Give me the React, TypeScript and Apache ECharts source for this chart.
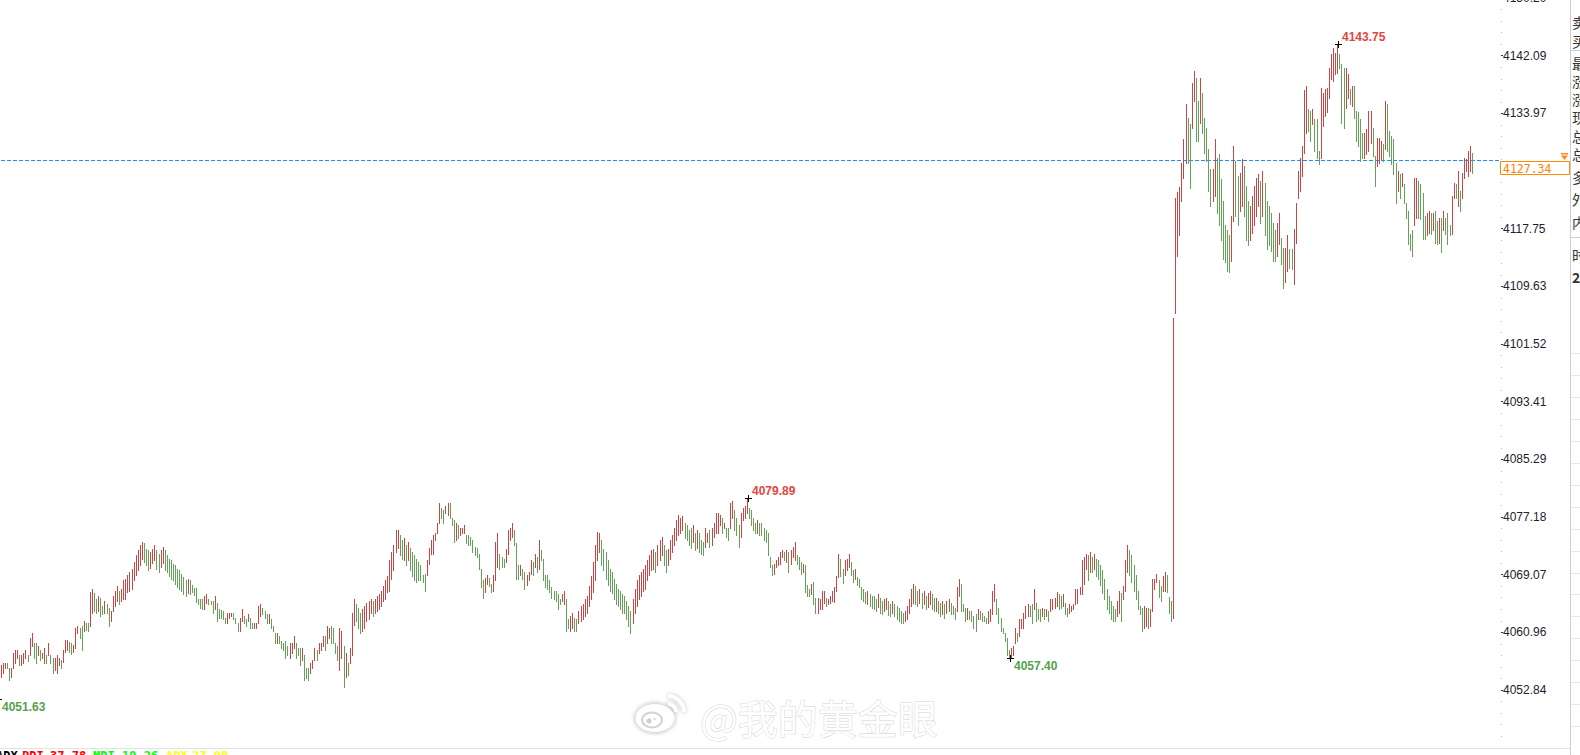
import React, { useEffect, useRef } from 'react';
import * as echarts from 'echarts';

// [high, low] of each bar, left to right
const bars: [number, number][] = [
[4056.3,4054.6],[4056.7,4055.2],[4056.7,4056.0],[4056.6,4055.9],[4055.9,4054.2],[4055.9,4054.6],[4058.1,4055.9],[4058.5,4056.7],[4058.4,4057.4],[4057.7,4056.3],
[4057.7,4056.3],[4058.1,4056.6],[4058.4,4057.3],[4057.7,4056.9],[4060.2,4057.7],[4060.8,4059.1],[4059.5,4057.4],[4059.4,4056.7],[4059.1,4057.7],[4058.4,4057.0],
[4058.1,4057.3],[4058.8,4056.6],[4057.7,4056.6],[4059.5,4057.7],[4057.7,4056.6],[4057.3,4055.3],[4057.3,4055.6],[4057.7,4055.3],[4057.3,4056.3],[4057.0,4056.0],
[4058.5,4056.8],[4059.9,4058.2],[4059.9,4058.5],[4059.6,4058.2],[4059.4,4057.9],[4059.2,4058.2],[4061.5,4058.8],[4061.9,4060.8],[4061.5,4060.2],[4061.9,4058.4],
[4062.6,4061.2],[4062.2,4061.3],[4062.2,4061.1],[4066.7,4061.9],[4067.0,4063.7],[4066.5,4064.0],[4065.7,4063.7],[4066.1,4064.0],[4065.8,4063.3],[4064.7,4063.6],
[4065.4,4063.7],[4065.0,4063.7],[4064.4,4061.9],[4064.0,4062.6],[4066.1,4064.0],[4066.8,4064.7],[4067.5,4065.4],[4066.8,4065.0],[4067.1,4065.4],[4068.3,4065.7],
[4068.5,4065.7],[4069.0,4066.6],[4069.4,4066.8],[4069.9,4067.1],[4070.8,4068.3],[4071.8,4069.0],[4072.5,4069.7],[4073.2,4070.4],[4073.7,4071.3],[4073.5,4070.8],
[4072.7,4070.4],[4072.5,4069.7],[4072.2,4070.0],[4072.7,4070.7],[4073.2,4071.1],[4072.5,4069.9],[4072.0,4069.4],[4072.5,4070.2],[4072.9,4070.7],[4072.5,4069.7],
[4071.8,4069.4],[4071.3,4068.9],[4071.1,4068.5],[4070.6,4068.3],[4070.4,4067.8],[4069.9,4067.4],[4069.7,4067.1],[4069.2,4066.8],[4068.8,4066.4],[4068.3,4066.0],
[4068.5,4066.5],[4068.3,4066.4],[4067.6,4066.6],[4067.2,4066.2],[4067.2,4065.2],[4065.7,4065.0],[4065.7,4064.4],[4065.7,4064.3],[4066.1,4064.3],[4066.4,4065.1],
[4065.7,4065.0],[4065.4,4065.0],[4065.4,4063.7],[4066.1,4064.3],[4065.1,4062.6],[4064.3,4063.0],[4064.1,4063.0],[4064.0,4062.9],[4063.0,4062.2],[4063.7,4062.3],
[4063.7,4063.0],[4063.7,4063.3],[4063.7,4062.9],[4063.0,4062.2],[4062.3,4061.2],[4063.0,4061.2],[4064.3,4062.6],[4063.3,4062.3],[4062.9,4061.9],[4063.6,4062.6],
[4063.0,4061.6],[4062.2,4061.5],[4062.2,4061.5],[4062.3,4061.5],[4064.7,4062.2],[4065.0,4063.3],[4064.4,4063.6],[4064.0,4063.0],[4063.6,4062.2],[4063.6,4062.2],
[4062.9,4061.6],[4061.9,4061.2],[4060.9,4059.4],[4060.9,4059.5],[4060.5,4059.4],[4059.8,4058.7],[4059.5,4058.4],[4059.8,4057.4],[4059.1,4057.7],[4059.5,4057.4],
[4059.5,4058.1],[4060.5,4058.8],[4059.4,4057.4],[4058.8,4057.7],[4058.8,4056.3],[4058.7,4057.0],[4057.7,4054.2],[4055.9,4054.5],[4055.9,4054.2],[4056.7,4055.2],
[4057.0,4055.9],[4058.7,4057.0],[4058.4,4057.0],[4059.4,4058.1],[4059.4,4058.4],[4060.5,4059.1],[4060.5,4058.4],[4061.9,4059.4],[4061.6,4060.1],[4061.9,4059.4],
[4061.6,4059.4],[4059.4,4058.1],[4059.1,4057.0],[4061.5,4055.6],[4061.2,4057.4],[4059.1,4053.2],[4058.1,4054.6],[4056.6,4054.9],[4058.7,4056.6],[4063.7,4057.7],
[4065.7,4062.0],[4065.0,4062.6],[4064.4,4061.5],[4063.7,4060.9],[4064.3,4061.2],[4064.7,4061.6],[4065.1,4062.6],[4065.4,4062.9],[4065.7,4063.7],[4065.4,4063.3],
[4065.7,4063.7],[4066.0,4064.0],[4066.4,4064.3],[4066.8,4064.7],[4067.5,4065.4],[4068.3,4065.7],[4068.9,4066.6],[4071.1,4066.8],[4072.2,4068.5],[4073.2,4069.7],
[4075.3,4072.2],[4075.4,4072.8],[4074.6,4071.8],[4073.9,4071.3],[4074.2,4071.1],[4073.2,4070.4],[4073.6,4071.1],[4072.8,4069.7],[4072.2,4068.9],[4071.8,4068.3],
[4071.3,4068.0],[4070.8,4068.3],[4070.4,4068.3],[4069.0,4068.0],[4069.2,4066.8],[4071.1,4069.0],[4072.8,4070.6],[4073.9,4072.0],[4074.6,4072.0],[4075.0,4073.9],
[4076.4,4074.9],[4079.2,4076.3],[4078.4,4077.0],[4078.1,4076.4],[4078.8,4077.7],[4079.2,4077.4],[4079.1,4077.1],[4077.0,4076.0],[4076.7,4073.6],[4076.4,4073.9],
[4076.0,4074.2],[4075.6,4074.6],[4075.7,4074.9],[4076.0,4074.9],[4074.6,4073.5],[4074.6,4073.2],[4074.3,4073.2],[4073.9,4072.2],[4072.9,4071.8],[4072.8,4071.5],
[4072.0,4069.9],[4069.9,4067.3],[4068.3,4065.8],[4068.6,4066.6],[4069.0,4067.8],[4068.6,4067.5],[4067.8,4066.6],[4069.0,4066.8],[4073.6,4068.3],[4074.9,4070.1],
[4072.0,4069.9],[4071.5,4070.1],[4071.3,4070.1],[4072.7,4070.8],[4075.3,4072.0],[4075.7,4073.9],[4076.3,4074.3],[4075.3,4073.2],[4073.5,4068.5],[4070.4,4068.5],
[4070.4,4069.0],[4069.9,4068.5],[4069.4,4067.1],[4069.0,4067.6],[4069.4,4068.3],[4071.1,4069.2],[4070.8,4069.0],[4072.0,4070.1],[4071.5,4069.4],[4073.9,4069.9],
[4072.5,4071.1],[4071.3,4068.3],[4069.0,4067.3],[4069.0,4067.1],[4068.3,4066.6],[4067.3,4065.8],[4066.8,4065.7],[4066.8,4065.4],[4066.4,4064.3],[4065.7,4065.0],
[4066.4,4065.4],[4066.8,4065.0],[4065.7,4061.2],[4062.9,4061.5],[4063.3,4061.2],[4063.7,4061.5],[4063.0,4061.2],[4062.9,4061.2],[4064.0,4062.3],[4064.7,4062.6],
[4065.0,4062.9],[4065.7,4063.3],[4066.1,4063.7],[4067.5,4064.7],[4068.9,4065.7],[4070.8,4066.6],[4073.2,4068.3],[4075.1,4071.1],[4075.0,4072.2],[4073.9,4070.4],
[4072.7,4069.7],[4072.2,4068.5],[4071.1,4067.6],[4069.9,4066.8],[4069.4,4066.5],[4068.5,4065.7],[4067.8,4065.0],[4067.1,4064.7],[4066.8,4064.3],[4066.4,4063.7],
[4066.1,4063.7],[4065.4,4062.9],[4064.7,4061.9],[4064.0,4060.9],[4065.7,4062.3],[4067.1,4063.7],[4068.3,4064.7],[4069.0,4065.7],[4069.4,4066.1],[4069.9,4066.8],
[4070.4,4067.1],[4071.1,4068.3],[4071.8,4069.0],[4072.5,4069.7],[4072.7,4069.9],[4072.2,4069.4],[4073.2,4070.4],[4073.9,4071.1],[4074.3,4071.8],[4073.2,4070.4],
[4072.5,4069.4],[4072.7,4070.4],[4073.9,4071.3],[4074.6,4072.2],[4075.6,4073.2],[4076.7,4073.9],[4077.4,4074.6],[4077.0,4075.0],[4077.3,4075.3],[4076.4,4074.2],
[4076.0,4073.9],[4075.3,4073.2],[4075.6,4072.8],[4076.0,4073.6],[4075.0,4072.5],[4075.3,4072.8],[4074.9,4072.2],[4073.9,4072.0],[4073.6,4071.8],[4075.7,4072.9],
[4075.0,4073.6],[4075.3,4072.9],[4075.7,4073.2],[4076.3,4074.3],[4077.7,4074.9],[4077.7,4074.9],[4077.4,4076.0],[4077.1,4074.9],[4076.4,4075.6],[4075.6,4074.3],
[4075.7,4073.9],[4079.2,4075.7],[4079.5,4077.0],[4078.1,4075.3],[4077.1,4074.6],[4076.0,4072.9],[4077.7,4074.3],[4078.4,4076.7],[4078.8,4077.1],[4079.89,4077.7],
[4078.4,4077.1],[4078.1,4076.0],[4077.1,4075.3],[4076.3,4075.0],[4076.7,4074.9],[4076.4,4074.6],[4076.3,4074.6],[4075.6,4073.9],[4075.3,4073.6],[4074.9,4071.8],
[4071.5,4070.1],[4070.4,4069.0],[4070.6,4069.2],[4071.1,4070.1],[4071.5,4070.4],[4072.2,4070.6],[4072.5,4071.5],[4072.2,4071.1],[4072.5,4070.8],[4072.2,4069.4],
[4072.5,4070.6],[4072.9,4071.5],[4073.6,4071.1],[4071.8,4070.6],[4071.5,4069.9],[4070.8,4069.2],[4070.6,4069.4],[4070.4,4066.6],[4067.6,4066.1],[4067.1,4066.1],
[4067.8,4066.4],[4068.0,4065.0],[4065.8,4063.7],[4065.8,4063.7],[4065.7,4064.3],[4066.8,4064.3],[4066.8,4065.1],[4065.8,4064.7],[4065.7,4065.0],[4066.1,4065.1],
[4066.8,4065.4],[4067.3,4065.2],[4068.9,4066.8],[4072.0,4068.7],[4071.3,4068.9],[4069.9,4067.9],[4071.1,4069.0],[4071.3,4069.7],[4072.0,4070.1],[4070.8,4069.0],
[4069.7,4068.0],[4069.9,4068.5],[4068.7,4067.6],[4068.5,4067.3],[4067.3,4065.7],[4067.1,4065.4],[4066.6,4065.1],[4066.8,4065.0],[4066.4,4064.7],[4066.1,4064.4],
[4066.0,4064.3],[4065.7,4064.0],[4066.3,4064.5],[4065.8,4063.7],[4065.4,4063.6],[4065.7,4064.0],[4065.8,4064.3],[4065.4,4063.4],[4065.0,4063.3],[4065.4,4063.7],
[4065.0,4063.3],[4064.7,4062.9],[4064.4,4062.6],[4064.0,4062.3],[4063.7,4062.2],[4064.0,4062.6],[4064.7,4062.9],[4065.7,4063.7],[4067.1,4064.7],[4067.8,4065.1],
[4067.5,4065.0],[4066.8,4064.7],[4067.1,4065.1],[4066.5,4064.4],[4066.8,4064.9],[4066.1,4064.3],[4066.5,4064.5],[4066.8,4065.0],[4066.3,4064.3],[4065.8,4064.0],
[4065.8,4064.0],[4065.4,4063.7],[4065.1,4063.3],[4065.4,4063.6],[4065.0,4063.0],[4065.4,4063.7],[4065.7,4064.0],[4065.1,4063.6],[4064.7,4063.6],[4064.4,4062.9],
[4067.3,4064.0],[4068.5,4066.1],[4067.8,4064.0],[4065.0,4064.0],[4064.4,4062.6],[4064.4,4062.9],[4064.0,4062.9],[4064.0,4062.6],[4063.3,4061.5],[4063.6,4061.2],
[4064.3,4062.9],[4064.0,4062.9],[4063.7,4062.6],[4063.3,4062.6],[4063.0,4062.3],[4064.0,4062.3],[4064.3,4062.6],[4066.8,4063.6],[4067.8,4065.4],[4065.7,4063.6],
[4064.4,4062.2],[4063.0,4061.2],[4061.6,4060.8],[4060.9,4059.8],[4060.1,4057.7],[4058.4,4057.40],[4058.7,4057.5],[4059.1,4057.7],[4061.6,4059.4],[4060.9,4059.8],
[4062.9,4060.5],[4062.9,4061.5],[4063.7,4061.5],[4064.7,4063.0],[4065.0,4063.3],[4064.7,4063.3],[4065.0,4062.3],[4067.1,4064.3],[4065.1,4062.6],[4064.3,4062.9],
[4064.3,4062.6],[4064.4,4063.3],[4064.3,4062.9],[4064.3,4063.3],[4064.0,4062.6],[4065.7,4064.0],[4065.7,4064.3],[4065.8,4064.4],[4066.6,4064.7],[4066.4,4064.3],
[4066.1,4064.4],[4066.4,4064.7],[4065.1,4063.6],[4064.4,4063.3],[4065.0,4063.7],[4064.7,4064.0],[4065.0,4064.3],[4067.1,4065.0],[4067.1,4065.1],[4067.3,4066.4],
[4071.1,4066.4],[4071.6,4067.8],[4072.0,4069.9],[4071.8,4068.3],[4072.2,4069.4],[4071.6,4069.4],[4072.0,4069.9],[4071.3,4068.9],[4071.1,4068.5],[4070.4,4067.6],
[4069.7,4066.5],[4068.5,4065.7],[4067.1,4064.3],[4066.1,4063.7],[4065.4,4062.9],[4064.7,4062.6],[4064.3,4062.6],[4065.4,4063.2],[4066.8,4063.7],[4066.5,4062.6],
[4067.5,4065.7],[4071.1,4066.8],[4073.2,4069.4],[4072.5,4069.0],[4071.8,4068.0],[4070.4,4066.8],[4069.0,4065.7],[4066.8,4064.3],[4064.7,4063.6],[4064.4,4061.2],
[4064.7,4061.6],[4064.4,4061.9],[4064.4,4061.6],[4064.3,4061.9],[4068.5,4064.0],[4068.5,4067.1],[4069.2,4068.0],[4068.3,4065.9],[4067.5,4065.4],[4068.9,4066.8],
[4069.4,4066.8],[4069.0,4066.6],[4065.9,4063.7],[4065.4,4062.6],[4105.2,4063.0],[4122.1,4105.9],[4122.9,4113.9],[4123.6,4116.8],[4127.0,4121.7],[4130.4,4124.9],
[4135.3,4127.0],[4133.3,4127.0],[4132.5,4123.5],[4138.3,4131.9],[4140.0,4135.7],[4139.0,4130.1],[4135.7,4130.1],[4139.0,4132.6],[4136.9,4131.2],[4133.3,4128.4],
[4131.9,4127.3],[4129.0,4123.1],[4126.2,4121.0],[4126.2,4121.7],[4130.4,4122.4],[4127.7,4120.0],[4128.3,4118.2],[4124.8,4116.1],[4121.7,4113.5],[4118.2,4113.0],
[4117.5,4111.8],[4116.8,4111.6],[4119.6,4113.2],[4129.4,4118.9],[4127.3,4119.6],[4125.2,4118.2],[4125.6,4120.3],[4127.6,4121.0],[4126.6,4119.6],[4123.8,4116.1],
[4121.7,4115.4],[4121.0,4116.1],[4122.4,4117.2],[4123.8,4118.2],[4124.9,4119.6],[4125.5,4121.0],[4124.5,4118.6],[4125.9,4119.6],[4124.2,4116.8],[4121.7,4114.9],
[4121.0,4115.4],[4120.0,4114.6],[4118.5,4113.2],[4117.5,4113.2],[4118.6,4113.9],[4119.9,4115.6],[4116.5,4112.8],[4115.1,4109.4],[4115.1,4110.2],[4116.8,4111.8],
[4114.9,4112.2],[4114.9,4112.1],[4117.7,4110.0],[4121.3,4115.8],[4125.9,4122.1],[4127.7,4123.1],[4129.4,4125.2],[4137.2,4128.4],[4137.8,4131.2],[4134.6,4131.5],
[4134.3,4130.1],[4134.6,4132.5],[4133.2,4128.7],[4133.2,4127.7],[4128.7,4126.9],[4137.6,4127.7],[4136.9,4132.2],[4137.4,4133.6],[4137.6,4134.1],[4140.4,4136.2],
[4142.3,4138.8],[4143.2,4138.6],[4142.5,4139.5],[4143.75,4139.7],[4142.3,4140.4],[4140.9,4132.6],[4140.4,4131.9],[4140.4,4134.8],[4139.5,4136.2],[4137.4,4135.3],
[4137.8,4135.0],[4137.8,4133.3],[4134.3,4130.1],[4134.1,4129.4],[4133.2,4127.3],[4131.2,4127.7],[4131.2,4127.7],[4131.8,4128.3],[4134.3,4128.7],[4134.3,4129.8],
[4131.9,4128.0],[4128.0,4123.8],[4130.5,4126.6],[4130.5,4127.0],[4130.1,4127.6],[4129.7,4127.3],[4135.7,4129.0],[4135.3,4128.7],[4131.5,4128.0],[4130.8,4126.9],
[4130.4,4125.5],[4127.0,4121.3],[4125.9,4123.1],[4125.5,4122.1],[4125.6,4123.8],[4124.1,4121.3],[4121.4,4119.3],[4120.3,4115.6],[4117.0,4114.7],[4117.5,4113.9],
[4124.9,4118.2],[4124.9,4119.3],[4124.5,4119.3],[4124.1,4119.1],[4122.8,4116.3],[4119.6,4116.3],[4119.9,4116.8],[4120.3,4117.2],[4120.0,4117.0],[4119.9,4117.5],
[4120.3,4115.8],[4118.9,4115.6],[4119.2,4115.8],[4119.3,4114.4],[4120.3,4117.5],[4119.3,4117.0],[4120.0,4115.6],[4118.2,4116.8],[4122.4,4117.0],[4124.2,4122.1],
[4124.1,4122.0],[4125.9,4121.0],[4123.1,4120.3],[4125.6,4122.1],[4127.7,4124.9],[4127.6,4125.9],[4128.7,4125.2],[4129.4,4125.9],[4128.4,4125.6]
];

// right-axis tick labels
const yTicks = [4052.84, 4060.96, 4069.07, 4077.18, 4085.29, 4093.41, 4101.52, 4109.63, 4117.75, 4125.86, 4133.97, 4142.09, 4150.20];

// [bar index, price, 1 = high / 0 = low]
const extremes: [number, number, number][] = [
  [0, 4051.63, 0],
  [359, 4079.89, 1],
  [485, 4057.40, 0],
  [643, 4143.75, 1],
];

const lastPrice = 4127.34;
const slotCount = 722;
const yMin = 4044.68;
const yMax = 4150.35;

const indicatorNames = ['ADX', 'PDI', 'MDI', 'ADX'];
const indicatorValues = [37.78, 19.26, 27.99];
const panelChars = ['卖', '买', '最', '涨', '涨', '现', '总', '总', '多', '外', '内', '时', '2'];
const watermarkText = '@我的黄金眼';

const UP = '#cc4444';
const DOWN = '#62a358';
const HI_TXT = '#e2463f';
const LO_TXT = '#55a24a';

export default function App() {
  const ref = useRef<HTMLDivElement>(null);

  useEffect(() => {
    if (!ref.current) return;
    const chart = echarts.init(ref.current, null, { renderer: 'svg' });
    const cats = Array.from({ length: slotCount }, (_, i) => String(i));
    const mids = bars.map((b) => (b[0] + b[1]) / 2);
    const data = bars.map((b, i) => [i, b[0], b[1], i === 0 ? 1 : mids[i] >= mids[i - 1] ? 1 : 0]);

    const step = (yTicks[yTicks.length - 1] - yTicks[0]) / (yTicks.length - 1);
    const minor: number[] = [];
    for (let j = 1; j <= 4; j++) minor.push(yTicks[0] - (step * j) / 5);
    for (let k = 0; k < yTicks.length - 1; k++) {
      for (let j = 1; j <= 4; j++) minor.push(yTicks[k] + ((yTicks[k + 1] - yTicks[k]) * j) / 5);
    }
    const labelTicks = yTicks.filter((v) => Math.abs(v - lastPrice) > 3);

    const renderBar = (params: any, api: any) => {
      const i = api.value(0);
      const top = api.coord([i, api.value(1)]);
      const bot = api.coord([i, api.value(2)]);
      const x = Math.floor(top[0]);
      const y1 = Math.round(top[1]);
      const y2 = Math.round(bot[1]);
      return {
        type: 'rect',
        shape: { x, y: y1, width: 1, height: Math.max(1, y2 - y1 + 1) },
        style: { fill: api.value(3) ? UP : DOWN },
        silent: true,
      };
    };

    const renderExt = (params: any, api: any) => {
      const i = api.value(0);
      const v = api.value(1);
      const isHigh = api.value(2) === 1;
      const p = api.coord([i, v]);
      const cx = Math.floor(p[0]) + (params.dataIndex === 0 ? -3 : 1);
      const cy = Math.round(p[1]);
      return {
        type: 'group',
        children: [
          { type: 'rect', shape: { x: cx - 3, y: cy, width: 7, height: 1 }, style: { fill: '#000' } },
          { type: 'rect', shape: { x: cx, y: cy - 3, width: 1, height: 7 }, style: { fill: '#000' } },
          {
            type: 'text',
            x: cx + 4,
            y: cy + (isHigh ? -7 : 8),
            style: {
              text: v.toFixed(2),
              fill: isHigh ? HI_TXT : LO_TXT,
              font: 'bold 12px "Liberation Sans", Arial, sans-serif',
              verticalAlign: 'middle',
              align: 'left',
            },
          },
        ],
      };
    };

    chart.setOption({
      animation: false,
      grid: { left: 0, right: 79, top: -3, bottom: 7, containLabel: false, outerBoundsMode: 'none' },
      xAxis: { type: 'category', data: cats, show: false, boundaryGap: true },
      yAxis: [
        {
          type: 'value',
          position: 'right',
          min: yMin,
          max: yMax,
          axisLine: { show: false },
          splitLine: { show: false },
          axisTick: { show: true, length: 2, customValues: labelTicks, lineStyle: { color: '#333', width: 1 } },
          axisLabel: {
            show: true,
            customValues: labelTicks,
            margin: 2,
            formatter: (v: number) => v.toFixed(2),
            color: '#1f2030',
            fontSize: 12,
            fontFamily: '"Liberation Sans", Arial, sans-serif',
          },
        },
        {
          type: 'value',
          position: 'right',
          min: yMin,
          max: yMax,
          axisLine: { show: false },
          splitLine: { show: false },
          axisLabel: { show: false },
          axisTick: { show: true, length: 1, customValues: minor, lineStyle: { color: '#b8b8b8', width: 1 } },
        },
      ],
      series: [
        {
          type: 'line',
          data: [[0, lastPrice], [slotCount - 1, lastPrice]],
          showSymbol: false,
          silent: true,
          lineStyle: { color: '#1b8af0', width: 1, type: [4, 2] },
          z: 1,
        },
        {
          type: 'custom',
          data,
          encode: { x: 0, y: [1, 2] },
          renderItem: renderBar,
          silent: true,
          z: 2,
        },
        {
          type: 'custom',
          data: extremes,
          encode: { x: 0, y: 1 },
          renderItem: renderExt,
          silent: true,
          z: 3,
        },
      ],
    });

    const lineY = Math.round(chart.convertToPixel({ yAxisIndex: 0 }, lastPrice) as number);

    const els: any[] = [];
    // separators
    els.push({ type: 'line', shape: { x1: 0, y1: 748.5, x2: 1570, y2: 748.5 }, style: { stroke: '#dde3ea', lineWidth: 1 }, z: 10 });
    els.push({ type: 'line', shape: { x1: 1570.5, y1: 0, x2: 1570.5, y2: 755 }, style: { stroke: '#c6cfda', lineWidth: 1 }, z: 10 });
    els.push({ type: 'line', shape: { x1: 1571, y1: 50.5, x2: 1580, y2: 50.5 }, style: { stroke: '#c6cfda', lineWidth: 1 }, z: 10 });
    els.push({ type: 'line', shape: { x1: 1571, y1: 237.5, x2: 1580, y2: 237.5 }, style: { stroke: '#c6cfda', lineWidth: 1 }, z: 10 });
    for (let k = 0; k < 18; k++) {
      const y = Math.round(353 + k * 21.95) + 0.5;
      els.push({ type: 'line', shape: { x1: 1571, y1: y, x2: 1580, y2: y }, style: { stroke: '#e6eaef', lineWidth: 1 }, z: 10 });
    }
    // right panel characters (cut off by page edge)
    const charY = [22, 41, 63, 81, 99, 117, 136, 154, 177, 199, 222, 255, 277];
    panelChars.forEach((c, k) => {
      els.push({
        type: 'text', x: 1572, y: charY[k],
        style: { text: c, fill: '#333', font: (c === '2' ? 'bold ' : '') + '14px "Noto Sans CJK SC", sans-serif', verticalAlign: 'middle', align: 'left' },
        z: 10,
      });
    });
    // last price box
    els.push({ type: 'rect', shape: { x: 1500.5, y: lineY + 0.5, width: 69, height: 13 }, style: { fill: '#fff', stroke: '#ff8a00', lineWidth: 1 }, z: 100 });
    els.push({
      type: 'text', x: 1503, y: lineY + 7.5,
      style: { text: lastPrice.toFixed(2), fill: '#ff7f00', font: '11.5px "DejaVu Sans Mono", monospace', verticalAlign: 'middle', align: 'left' },
      z: 101,
    });
    els.push({ type: 'rect', shape: { x: 1561, y: lineY - 8, width: 7, height: 1.5 }, style: { fill: '#ff8a1a' }, z: 101 });
    els.push({ type: 'polygon', shape: { points: [[1561, lineY - 5.5], [1568, lineY - 5.5], [1564.5, lineY - 1]] }, style: { fill: '#ff8a1a' }, z: 101 });
    // bottom indicator line (mostly cut off)
    const indParts = [
      { t: indicatorNames[0], c: '#000000', x: -4 },
      { t: indicatorNames[1], c: '#ff0000', x: 22 },
      { t: indicatorValues[0].toFixed(2), c: '#ff0000', x: 50 },
      { t: indicatorNames[2], c: '#00ff00', x: 93 },
      { t: indicatorValues[1].toFixed(2), c: '#00ff00', x: 122 },
      { t: indicatorNames[3], c: '#ffff00', x: 166 },
      { t: indicatorValues[2].toFixed(2), c: '#ffff00', x: 192 },
    ];
    indParts.forEach((p) => {
      els.push({
        type: 'text', x: p.x, y: 750,
        style: { text: p.t, fill: p.c, font: 'bold 12px "DejaVu Sans Mono", monospace', verticalAlign: 'top', align: 'left' },
        z: 10,
      });
    });
    // watermark
    const wmShadow = { shadowBlur: 4, shadowColor: 'rgba(0,0,0,0.28)' };
    els.push({ type: 'ellipse', shape: { cx: 655, cy: 718, rx: 20, ry: 14.5 }, style: { fill: '#ffffff', stroke: '#d9d9d9', lineWidth: 1, ...wmShadow }, z: 50 });
    els.push({ type: 'ellipse', shape: { cx: 652, cy: 720, rx: 10, ry: 7.5 }, style: { fill: '#ffffff', stroke: '#d2d2d2', lineWidth: 2 }, z: 51 });
    els.push({ type: 'circle', shape: { cx: 649, cy: 721, r: 2.6 }, style: { fill: '#d0d0d0' }, z: 52 });
    els.push({ type: 'circle', shape: { cx: 654.5, cy: 719, r: 1.2 }, style: { fill: '#d6d6d6' }, z: 52 });
    els.push({ type: 'arc', shape: { cx: 668, cy: 712, r: 8, startAngle: -Math.PI / 2, endAngle: 0 }, style: { stroke: '#ffffff', lineWidth: 3.5, fill: 'none', ...wmShadow }, z: 50 });
    els.push({ type: 'arc', shape: { cx: 668, cy: 712, r: 16, startAngle: -Math.PI / 2, endAngle: 0 }, style: { stroke: '#ffffff', lineWidth: 3.5, fill: 'none', ...wmShadow }, z: 50 });
    els.push({
      type: 'text', x: 700, y: 717,
      style: {
        text: watermarkText, fill: '#ffffff', stroke: '#d4d4d4', lineWidth: 1,
        font: '40px "Noto Sans CJK SC", sans-serif', verticalAlign: 'middle', align: 'left', ...wmShadow,
      },
      z: 50,
    });

    chart.setOption({ graphic: { elements: els } });

    return () => chart.dispose();
  }, []);

  return (
    <div
      ref={ref}
      style={{ position: 'fixed', left: 0, top: 0, width: 1580, height: 755, background: '#ffffff', overflow: 'hidden' }}
    />
  );
}
